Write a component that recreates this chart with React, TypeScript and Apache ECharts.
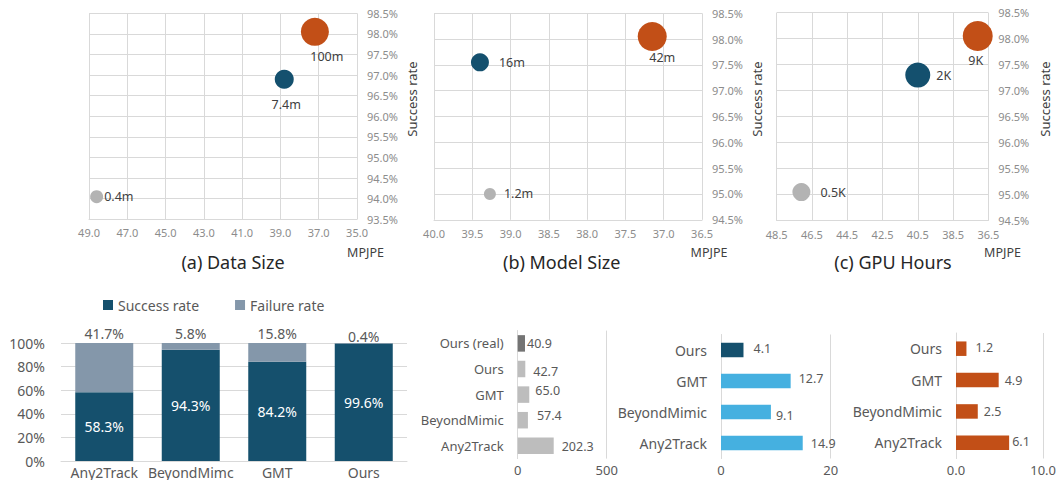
import React, { useEffect, useRef } from "react";
import * as echarts from "echarts";

const FONT = "'Noto Sans', 'Open Sans', sans-serif";

// ---- Bubble panels: MPJPE vs success rate ----
const dataSizeLabels = ["0.4m", "7.4m", "100m"];
const dataSizeMpjpe = [48.6, 38.8, 37.2];
const dataSizeSuccess = [94.05, 96.9, 98.05];

const modelSizeLabels = ["1.2m", "16m", "42m"];
const modelSizeMpjpe = [39.27, 39.4, 37.15];
const modelSizeSuccess = [95.0, 97.55, 98.05];

const gpuHourLabels = ["0.5K", "2K", "9K"];
const gpuHourMpjpe = [47.1, 40.5, 37.1];
const gpuHourSuccess = [95.05, 97.3, 98.05];

// ---- Success / failure breakdown ----
const methods = ["Any2Track", "BeyondMimc", "GMT", "Ours"];
const successRate = [58.3, 94.3, 84.2, 99.6];
const failureRate = [41.7, 5.8, 15.8, 0.4];

// ---- Horizontal comparisons ----
const catsA = ["Ours (real)", "Ours", "GMT", "BeyondMimic", "Any2Track"];
const valsA = [40.9, 42.7, 65.0, 57.4, 202.3];
const catsB = ["Ours", "GMT", "BeyondMimic", "Any2Track"];
const valsB = [4.1, 12.7, 9.1, 14.9];
const catsC = ["Ours", "GMT", "BeyondMimic", "Any2Track"];
const valsC = [1.2, 4.9, 2.5, 6.1];

// ---- styling ----
const GRID_LINE = "#d9d9d9";
const TICK_GREY = "#8c8c8c";
const TEXT_GREY = "#595959";
const DARK_TEXT = "#404040";
const BUBBLE_COLORS = ["#b3b3b3", "#14506e", "#c24f17"];

type LabelPlace = { pos: "right" | "inside"; dist?: number; off?: [number, number] };

const bubbleSizesA = [13, 19, 28];
const bubbleSizesB = [12, 18, 29];
const bubbleSizesC = [18, 25, 30];

const placesA: LabelPlace[] = [
  { pos: "right", dist: 1 },
  { pos: "inside", off: [2, 25] },
  { pos: "inside", off: [12, 25] },
];
const placesB: LabelPlace[] = [
  { pos: "right", dist: 8 },
  { pos: "right", dist: 10 },
  { pos: "inside", off: [10, 21] },
];
const placesC: LabelPlace[] = [
  { pos: "right", dist: 10 },
  { pos: "right", dist: 6 },
  { pos: "inside", off: [-2, 24] },
];

// value-label nudges for the horizontal bars: [gap, dy]
const nudgeA: [number, number][] = [[2, 0], [8, 2], [6, -4], [9, -5], [8, 1]];
const nudgeB: [number, number][] = [[10, -2], [8, -3], [5, 3], [8, 0]];
const nudgeC: [number, number][] = [[9, -1], [6, 0], [6, 0], [3, -1]];

function buildOption() {
  const grids: any[] = [];
  const xAxes: any[] = [];
  const yAxes: any[] = [];
  const series: any[] = [];
  const graphics: any[] = [];

  // ---------- bubble panels ----------
  const panels = [
    {
      grid: { left: 89, top: 13.3, width: 268, height: 206 },
      lo: 35, hi: 49, step: 2, ylo: 93.5, yhi: 98.5,
      mpjpe: dataSizeMpjpe, succ: dataSizeSuccess, labels: dataSizeLabels,
      sizes: bubbleSizesA, places: placesA,
    },
    {
      grid: { left: 434, top: 13.3, width: 268, height: 206.5 },
      lo: 36.5, hi: 40, step: 0.5, ylo: 94.5, yhi: 98.5,
      mpjpe: modelSizeMpjpe, succ: modelSizeSuccess, labels: modelSizeLabels,
      sizes: bubbleSizesB, places: placesB,
    },
    {
      grid: { left: 776.7, top: 12.7, width: 211.6, height: 208 },
      lo: 36.5, hi: 48.5, step: 2, ylo: 94.5, yhi: 98.5,
      mpjpe: gpuHourMpjpe, succ: gpuHourSuccess, labels: gpuHourLabels,
      sizes: bubbleSizesC, places: placesC,
    },
  ];

  panels.forEach((p) => {
    const gi = grids.length;
    grids.push({ ...p.grid, containLabel: false });
    // x runs as distance from the axis' lower bound so ticks start exactly at it
    xAxes.push({
      type: "value",
      gridIndex: gi,
      inverse: true,
      min: 0,
      max: p.hi - p.lo,
      interval: p.step,
      axisLine: { show: true, lineStyle: { color: GRID_LINE } },
      axisTick: { show: false },
      splitLine: { show: true, lineStyle: { color: GRID_LINE } },
      axisLabel: {
        color: TICK_GREY,
        fontSize: 11,
        fontFamily: FONT,
        margin: 8,
        formatter: (v: number) => (v + p.lo).toFixed(1),
      },
    });
    yAxes.push({
      type: "value",
      gridIndex: gi,
      position: "right",
      min: p.ylo,
      max: p.yhi,
      interval: 0.5,
      axisLine: { show: false },
      axisTick: { show: false },
      splitLine: { show: true, lineStyle: { color: GRID_LINE } },
      axisLabel: {
        color: TICK_GREY,
        fontSize: 11,
        fontFamily: FONT,
        margin: 10,
        formatter: (v: number) => v.toFixed(1) + "%",
      },
    });
    series.push({
      type: "scatter",
      name: "bubble" + gi,
      xAxisIndex: gi,
      yAxisIndex: gi,
      data: p.mpjpe.map((m, i) => {
        const pl = p.places[i];
        return {
          value: [m - p.lo, p.succ[i]],
          symbolSize: p.sizes[i],
          itemStyle: { color: BUBBLE_COLORS[i], opacity: 1 },
          label: {
            show: true,
            formatter: p.labels[i],
            position: pl.pos,
            distance: pl.dist ?? 5,
            offset: pl.off ?? [0, 0],
            color: DARK_TEXT,
            fontSize: 12.5,
            fontFamily: FONT,
          },
        };
      }),
    });
  });

  // axis titles / panel captions
  const sideNames = [412, 757, 1045];
  sideNames.forEach((x) =>
    graphics.push({
      type: "text",
      x,
      y: 99,
      rotation: Math.PI / 2,
      style: {
        text: "Success rate",
        fill: DARK_TEXT,
        fontSize: 13,
        fontFamily: FONT,
        align: "center",
        verticalAlign: "middle",
      },
    })
  );
  [365.5, 709, 1002.5].forEach((x) =>
    graphics.push({
      type: "text",
      x,
      y: 252,
      style: {
        text: "MPJPE",
        fill: DARK_TEXT,
        fontSize: 12.5,
        fontFamily: FONT,
        align: "center",
        verticalAlign: "middle",
      },
    })
  );
  const captions = [
    { x: 233, t: "(a) Data Size" },
    { x: 561.7, t: "(b) Model Size" },
    { x: 893, t: "(c) GPU Hours" },
  ];
  captions.forEach((c) =>
    graphics.push({
      type: "text",
      x: c.x,
      y: 262,
      style: {
        text: c.t,
        fill: "#262626",
        fontSize: 18,
        fontFamily: FONT,
        align: "center",
        verticalAlign: "middle",
      },
    })
  );

  // ---------- stacked success / failure bars ----------
  {
    const gi = grids.length;
    grids.push({ left: 61, top: 343, width: 346, height: 118 });
    xAxes.push({
      type: "category",
      gridIndex: gi,
      data: methods,
      axisLine: { show: true, lineStyle: { color: GRID_LINE } },
      axisTick: { show: false },
      axisLabel: {
        interval: 0,
        color: TEXT_GREY,
        fontSize: 14,
        lineHeight: 14,
        fontFamily: FONT,
        margin: 4,
      },
    });
    yAxes.push({
      type: "value",
      gridIndex: gi,
      min: 0,
      max: 100,
      interval: 20,
      axisLine: { show: false },
      axisTick: { show: false },
      splitLine: { show: true, lineStyle: { color: GRID_LINE } },
      axisLabel: {
        color: TEXT_GREY,
        fontSize: 14,
        fontFamily: FONT,
        margin: 16,
        formatter: "{value}%",
      },
    });
    series.push({
      type: "bar",
      name: "Success rate",
      xAxisIndex: gi,
      yAxisIndex: gi,
      stack: "rate",
      barWidth: 58,
      itemStyle: { color: "#15506d" },
      label: {
        show: true,
        position: "inside",
        color: "#ffffff",
        fontSize: 14,
        fontFamily: FONT,
        formatter: (p: any) => p.value.toFixed(1) + "%",
      },
      data: successRate,
    });
    series.push({
      type: "bar",
      name: "Failure rate",
      xAxisIndex: gi,
      yAxisIndex: gi,
      stack: "rate",
      barWidth: 58,
      itemStyle: { color: "#8497aa" },
      label: {
        show: true,
        position: "top",
        distance: 3,
        color: TEXT_GREY,
        fontSize: 14,
        fontFamily: FONT,
        formatter: (p: any) => p.value.toFixed(1) + "%",
      },
      data: failureRate.map((v, i) =>
        i === failureRate.length - 1 ? { value: v, label: { offset: [0, 3] } } : v
      ),
    });
  }

  // ---------- horizontal comparison bars ----------
  const hPanels = [
    {
      grid: { left: 517.7, top: 330.6, width: 89, height: 128 },
      cats: catsA, vals: valsA, max: 500,
      fmt: (v: number) => String(v), vfmt: (v: number) => v.toFixed(1),
      colors: valsA.map((_, i) => (i === 0 ? "#747474" : "#bdbdbd")),
      barWidth: 16.5, catFont: 13, nudge: nudgeA,
    },
    {
      grid: { left: 721, top: 334.5, width: 109.7, height: 124 },
      cats: catsB, vals: valsB, max: 20,
      fmt: (v: number) => String(v), vfmt: (v: number) => v.toFixed(1),
      colors: valsB.map((_, i) => (i === 0 ? "#15506d" : "#45b0e0")),
      barWidth: 14.5, catFont: 14, nudge: nudgeB,
    },
    {
      grid: { left: 956, top: 333, width: 90.7, height: 125.5 },
      cats: catsC, vals: valsC, max: 10,
      fmt: (v: number) => v.toFixed(1), vfmt: (v: number) => v.toFixed(1),
      colors: valsC.map(() => "#c24f17"),
      barWidth: 14.5, catFont: 14, nudge: nudgeC,
    },
  ];

  hPanels.forEach((h, k) => {
    const gi = grids.length;
    grids.push(h.grid);
    xAxes.push({
      type: "value",
      gridIndex: gi,
      min: 0,
      max: h.max,
      interval: h.max,
      axisLine: { show: false },
      axisTick: { show: false },
      splitLine: { show: true, lineStyle: { color: GRID_LINE } },
      axisLabel: {
        color: TEXT_GREY,
        fontSize: 13,
        lineHeight: 13,
        fontFamily: FONT,
        margin: 5,
        formatter: h.fmt,
      },
    });
    yAxes.push({
      type: "category",
      gridIndex: gi,
      inverse: true,
      data: h.cats,
      axisLine: { show: true, lineStyle: { color: GRID_LINE } },
      axisTick: { show: false },
      axisLabel: { color: TEXT_GREY, fontSize: h.catFont, fontFamily: FONT, margin: 14 },
    });
    series.push({
      type: "bar",
      name: "cmp" + k,
      xAxisIndex: gi,
      yAxisIndex: gi,
      barWidth: h.barWidth,
      data: h.vals.map((v, i) => ({
        value: v,
        itemStyle: { color: h.colors[i] },
        label: { distance: h.nudge[i][0], offset: [0, h.nudge[i][1]] },
      })),
      label: {
        show: true,
        position: "right",
        color: TEXT_GREY,
        fontSize: 12.5,
        fontFamily: FONT,
        formatter: (p: any) => h.vfmt(p.value),
      },
    });
  });

  return {
    animation: false,
    backgroundColor: "#ffffff",
    textStyle: { fontFamily: FONT },
    legend: {
      data: ["Success rate", "Failure rate"],
      left: 98,
      top: 293,
      icon: "rect",
      itemWidth: 10,
      itemHeight: 10,
      itemGap: 36,
      textStyle: { color: TEXT_GREY, fontSize: 14, fontFamily: FONT },
    },
    grid: grids,
    xAxis: xAxes,
    yAxis: yAxes,
    series,
    graphic: graphics,
  };
}

export default function App() {
  const ref = useRef<HTMLDivElement>(null);
  useEffect(() => {
    if (!ref.current) return;
    const chart = echarts.init(ref.current, undefined, { renderer: "svg" });
    chart.setOption(buildOption() as any);
    return () => chart.dispose();
  }, []);
  return (
    <div
      ref={ref}
      style={{ position: "absolute", left: 0, top: 0, width: 1059, height: 480, background: "#fff" }}
    />
  );
}
